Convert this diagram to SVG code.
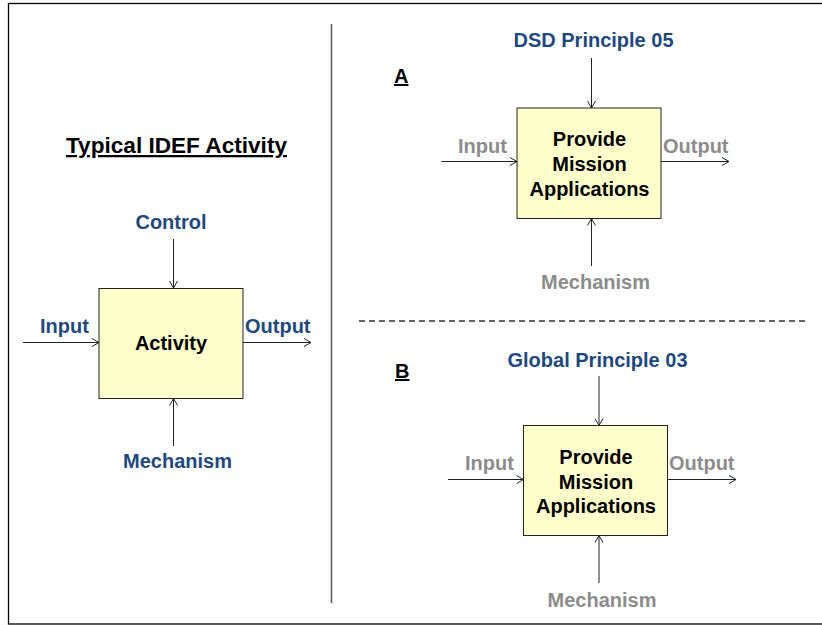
<svg xmlns="http://www.w3.org/2000/svg" width="822" height="625" viewBox="0 0 822 625">
<defs>
<marker id="arr" markerUnits="userSpaceOnUse" markerWidth="12" markerHeight="12" refX="8" refY="5" orient="auto">
<path d="M1,1 L8,5 L1,9" fill="none" stroke="#222" stroke-width="1"/>
</marker>
<style>
text{font-family:"Liberation Sans",Arial,sans-serif;font-weight:bold;font-size:20px}
.blue{fill:#1F497D}
.gray{fill:#8C8C8C}
.blk{fill:#000}
.mid{text-anchor:middle}
.box{fill:#FFFFCC;stroke:#222;stroke-width:1}
.arrow{stroke:#222;stroke-width:1;fill:none;marker-end:url(#arr)}
.u{text-decoration:underline}
</style>
</defs>
<rect x="0" y="0" width="822" height="625" fill="#fff"/>
<rect x="8.5" y="3.5" width="820" height="620.5" fill="none" stroke="#000" stroke-width="1.3"/>
<line x1="331.5" y1="24" x2="331.5" y2="603" stroke="#555" stroke-width="1.5"/>
<line x1="359" y1="321" x2="806" y2="321" stroke="#333" stroke-width="1.3" stroke-dasharray="6,4"/>

<g id="connectors">
<line class="arrow" x1="173.5" y1="239" x2="173.5" y2="288"/>
<line class="arrow" x1="173.5" y1="446" x2="173.5" y2="398.5"/>
<line class="arrow" x1="23" y1="342.5" x2="99" y2="342.5"/>
<line class="arrow" x1="243" y1="342.5" x2="311" y2="342.5"/>

<line class="arrow" x1="591.5" y1="58" x2="591.5" y2="108"/>
<line class="arrow" x1="591.5" y1="266" x2="591.5" y2="218.5"/>
<line class="arrow" x1="441.5" y1="161.5" x2="517" y2="161.5"/>
<line class="arrow" x1="661" y1="161.5" x2="729" y2="161.5"/>

<line class="arrow" x1="599" y1="376" x2="599" y2="425.5"/>
<line class="arrow" x1="599" y1="583" x2="599" y2="535.5"/>
<line class="arrow" x1="448" y1="479.5" x2="523.5" y2="479.5"/>
<line class="arrow" x1="667.5" y1="479.5" x2="736" y2="479.5"/>
</g>

<g id="typical">
<text class="blk mid u" x="176.5" y="153" style="font-size:22.6px">Typical IDEF Activity</text>
<text class="blue mid" x="171" y="229">Control</text>
<text class="blue" x="40" y="333">Input</text>
<text class="blue" x="245" y="333">Output</text>
<text class="blue mid" x="177.5" y="468">Mechanism</text>
</g>
<g id="activity">
<rect class="box" x="99" y="288.5" width="144" height="110"/>
<text class="blk mid" x="171" y="350">Activity</text>
</g>

<g id="panelA">
<text class="blk u" x="394" y="83">A</text>
<text class="blue mid" x="593.5" y="47">DSD Principle 05</text>
<text class="gray" x="458" y="153">Input</text>
<text class="gray" x="663" y="153">Output</text>
<text class="gray mid" x="595.5" y="288.5">Mechanism</text>
</g>
<g id="boxA">
<rect class="box" x="517" y="108" width="144" height="110.5"/>
<text class="blk mid" x="589.5" y="146">Provide</text>
<text class="blk mid" x="589.5" y="170.5">Mission</text>
<text class="blk mid" x="589.5" y="195.5">Applications</text>
</g>

<g id="panelB">
<text class="blk u" x="395" y="378">B</text>
<text class="blue mid" x="597.5" y="367">Global Principle 03</text>
<text class="gray" x="465" y="470">Input</text>
<text class="gray" x="669" y="470">Output</text>
<text class="gray mid" x="602" y="607">Mechanism</text>
</g>
<g id="boxB">
<rect class="box" x="523.5" y="425.5" width="144" height="110"/>
<text class="blk mid" x="596" y="464">Provide</text>
<text class="blk mid" x="596" y="488.5">Mission</text>
<text class="blk mid" x="596" y="512.5">Applications</text>
</g>
</svg>
